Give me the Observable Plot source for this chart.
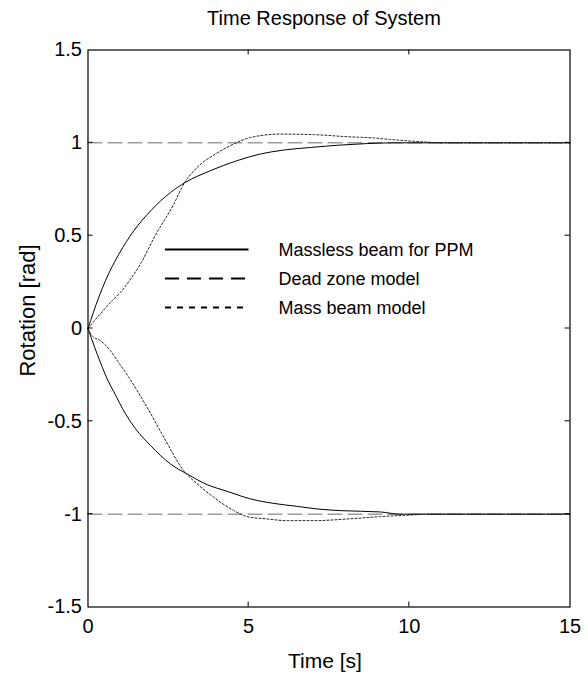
<!DOCTYPE html>
<html>
<head>
<meta charset="utf-8">
<script src="https://cdn.jsdelivr.net/npm/d3@7"></script>
<script src="https://cdn.jsdelivr.net/npm/@observablehq/plot@0.6"></script>
<style>
  html, body { margin: 0; padding: 0; background: #fff; }
  #chart svg { display: block; }
</style>
</head>
<body>
<div id="chart"></div>
<script>
// ---- data ----
const xTicks = [0, 5, 10, 15];
const xTickLabels = ["0", "5", "10", "15"];
const yTicks = [-1.5, -1, -0.5, 0, 0.5, 1, 1.5];
const yTickLabels = ["-1.5", "-1", "-0.5", "0", "0.5", "1", "1.5"];

const titleText = "Time Response of System";
const xLabel = "Time [s]";
const yLabel = "Rotation [rad]";
const legendLabels = ["Massless beam for PPM", "Dead zone model", "Mass beam model"];

// Massless beam for PPM (solid)
const masslessUpT = [0, 0.34, 0.55, 0.96, 1.43, 1.95, 2.57, 3.03, 3.81, 4.64, 5.37, 6.09, 6.93, 7.86, 8.69, 9.5, 15];
const masslessUpV = [0, 0.17, 0.26, 0.40, 0.527, 0.634, 0.733, 0.787, 0.85, 0.904, 0.94, 0.961, 0.975, 0.988, 0.996, 1.0, 1.0];
const masslessDnT = [0, 0.39, 0.62, 0.80, 1.17, 1.48, 1.95, 2.57, 3.09, 3.71, 4.33, 5.06, 5.78, 6.51, 7.13, 7.86, 9.10, 9.7, 15];
const masslessDnV = [0, -0.185, -0.28, -0.34, -0.46, -0.54, -0.631, -0.730, -0.784, -0.841, -0.877, -0.918, -0.942, -0.958, -0.972, -0.981, -0.988, -1.0, -1.0];

// Dead zone model (dashed)
const deadT = [0, 15];
const deadUpV = [1, 1];
const deadDnV = [-1, -1];

// Mass beam model (dotted)
const massUpT = [0, 0.39, 0.75, 1.01, 1.3, 1.63, 2.10, 2.67, 2.98, 3.40, 3.97, 4.64, 5.06, 5.99, 7.03, 8.07, 8.9, 9.41, 10.0, 10.56, 11.0, 15];
const massUpV = [0, 0.08, 0.15, 0.194, 0.26, 0.347, 0.503, 0.670, 0.778, 0.868, 0.94, 1.002, 1.029, 1.047, 1.044, 1.033, 1.026, 1.018, 1.01, 1.004, 1.0, 1.0];
const massDnT = [0, 0.13, 0.39, 0.70, 0.91, 1.27, 1.84, 2.36, 2.98, 3.40, 3.92, 4.54, 4.95, 5.58, 6.2, 7.03, 8.07, 9.10, 10.0, 10.7, 15];
const massDnV = [0, -0.04, -0.066, -0.12, -0.173, -0.263, -0.425, -0.586, -0.766, -0.837, -0.910, -0.981, -1.013, -1.026, -1.035, -1.035, -1.026, -1.013, -1.005, -1.0, -1.0];

(function () {
// ---- build tables ----
function rows(ts, vs, branch) { return ts.map((t, i) => ({t, v: vs[i], branch})); }
const masslessRows = [...rows(masslessUpT, masslessUpV, "up"), ...rows(masslessDnT, masslessDnV, "down")];
const deadRows = [...rows(deadT, deadUpV, "up"), ...rows(deadT, deadDnV, "down")];
const massRows = [...rows(massUpT, massUpV, "up"), ...rows(massDnT, massDnV, "down")];

const FONT = "'Liberation Sans', Arial, Helvetica, sans-serif";

const chart = Plot.plot({
  width: 588,
  height: 678,
  marginLeft: 87.5,
  marginRight: 18.5,
  marginTop: 49.5,
  marginBottom: 71.5,
  style: {fontFamily: FONT, fontSize: "20px", background: "#fff", color: "#000"},
  x: {domain: [0, 15], label: null},
  y: {domain: [-1.5, 1.5], label: null},
  marks: [
    Plot.line(deadRows, {x: "t", y: "v", z: "branch", stroke: "#6a6a6a", strokeWidth: 1, strokeDasharray: "14,6"}),
    Plot.line(masslessRows, {x: "t", y: "v", z: "branch", stroke: "#000", strokeWidth: 1, curve: "monotone-x"}),
    Plot.line(massRows, {x: "t", y: "v", z: "branch", stroke: "#222", strokeWidth: 1, strokeDasharray: "2,2", curve: "monotone-x"}),
    Plot.frame({stroke: "#000", strokeWidth: 1.2}),
    Plot.axisX(xTicks, {anchor: "bottom", tickSize: 0, tickPadding: 12, label: null,
      tickFormat: d => xTickLabels[xTicks.indexOf(d)], fontSize: 20}),
    Plot.axisY(yTicks, {anchor: "left", tickSize: 0, tickPadding: 6, label: null,
      tickFormat: d => yTickLabels[yTicks.indexOf(d)], fontSize: 20}),
    Plot.text([titleText], {frameAnchor: "top", lineAnchor: "middle", textAnchor: "middle", dy: -31, dx: -5, fontSize: 20}),
    Plot.text([xLabel], {frameAnchor: "bottom", lineAnchor: "middle", textAnchor: "middle", dy: 54, dx: -4, fontSize: 21}),
    Plot.text([yLabel], {frameAnchor: "left", lineAnchor: "middle", textAnchor: "middle", dx: -60, dy: -18, rotate: -90, fontSize: 22})
  ]
});

document.getElementById("chart").appendChild(chart);

// ---- inward ticks (MATLAB style) and in-plot legend ----
const svg = d3.select(chart);
const xs = chart.scale("x"), ys = chart.scale("y");
const pLeft = xs.apply(0), pRight = xs.apply(15), pTop = ys.apply(1.5), pBottom = ys.apply(-1.5);
const tk = 5;
const g = svg.append("g").attr("stroke", "#000").attr("stroke-width", 1);
xTicks.filter(d => d > 0 && d < 15).forEach(d => {
  const x = xs.apply(d);
  g.append("line").attr("x1", x).attr("x2", x).attr("y1", pBottom).attr("y2", pBottom - tk);
  g.append("line").attr("x1", x).attr("x2", x).attr("y1", pTop).attr("y2", pTop + tk);
});
yTicks.filter(d => d > -1.5 && d < 1.5).forEach(d => {
  const y = ys.apply(d);
  g.append("line").attr("x1", pLeft).attr("x2", pLeft + tk).attr("y1", y).attr("y2", y);
  g.append("line").attr("x1", pRight).attr("x2", pRight - tk).attr("y1", y).attr("y2", y);
});

const legendStyles = [
  {dash: null, width: 2},
  {dash: "14,8", width: 2},
  {dash: "6,6", width: 2}
];
const lg = svg.append("g");
const lx1 = pLeft + 77.5, lx2 = pLeft + 161, ltx = pLeft + 191, ly0 = pTop + 200, lstep = 29;
legendLabels.forEach((lab, i) => {
  const y = ly0 + i * lstep;
  const st = legendStyles[i];
  const ln = lg.append("line").attr("x1", lx1).attr("x2", lx2).attr("y1", y).attr("y2", y)
    .attr("stroke", "#000").attr("stroke-width", st.width);
  if (st.dash) ln.attr("stroke-dasharray", st.dash);
  lg.append("text").attr("x", ltx).attr("y", y).attr("dy", "0.35em")
    .attr("text-anchor", "start")
    .attr("font-family", FONT).attr("font-size", 18).attr("fill", "#000").text(lab);
});
})();
</script>
</body>
</html>
